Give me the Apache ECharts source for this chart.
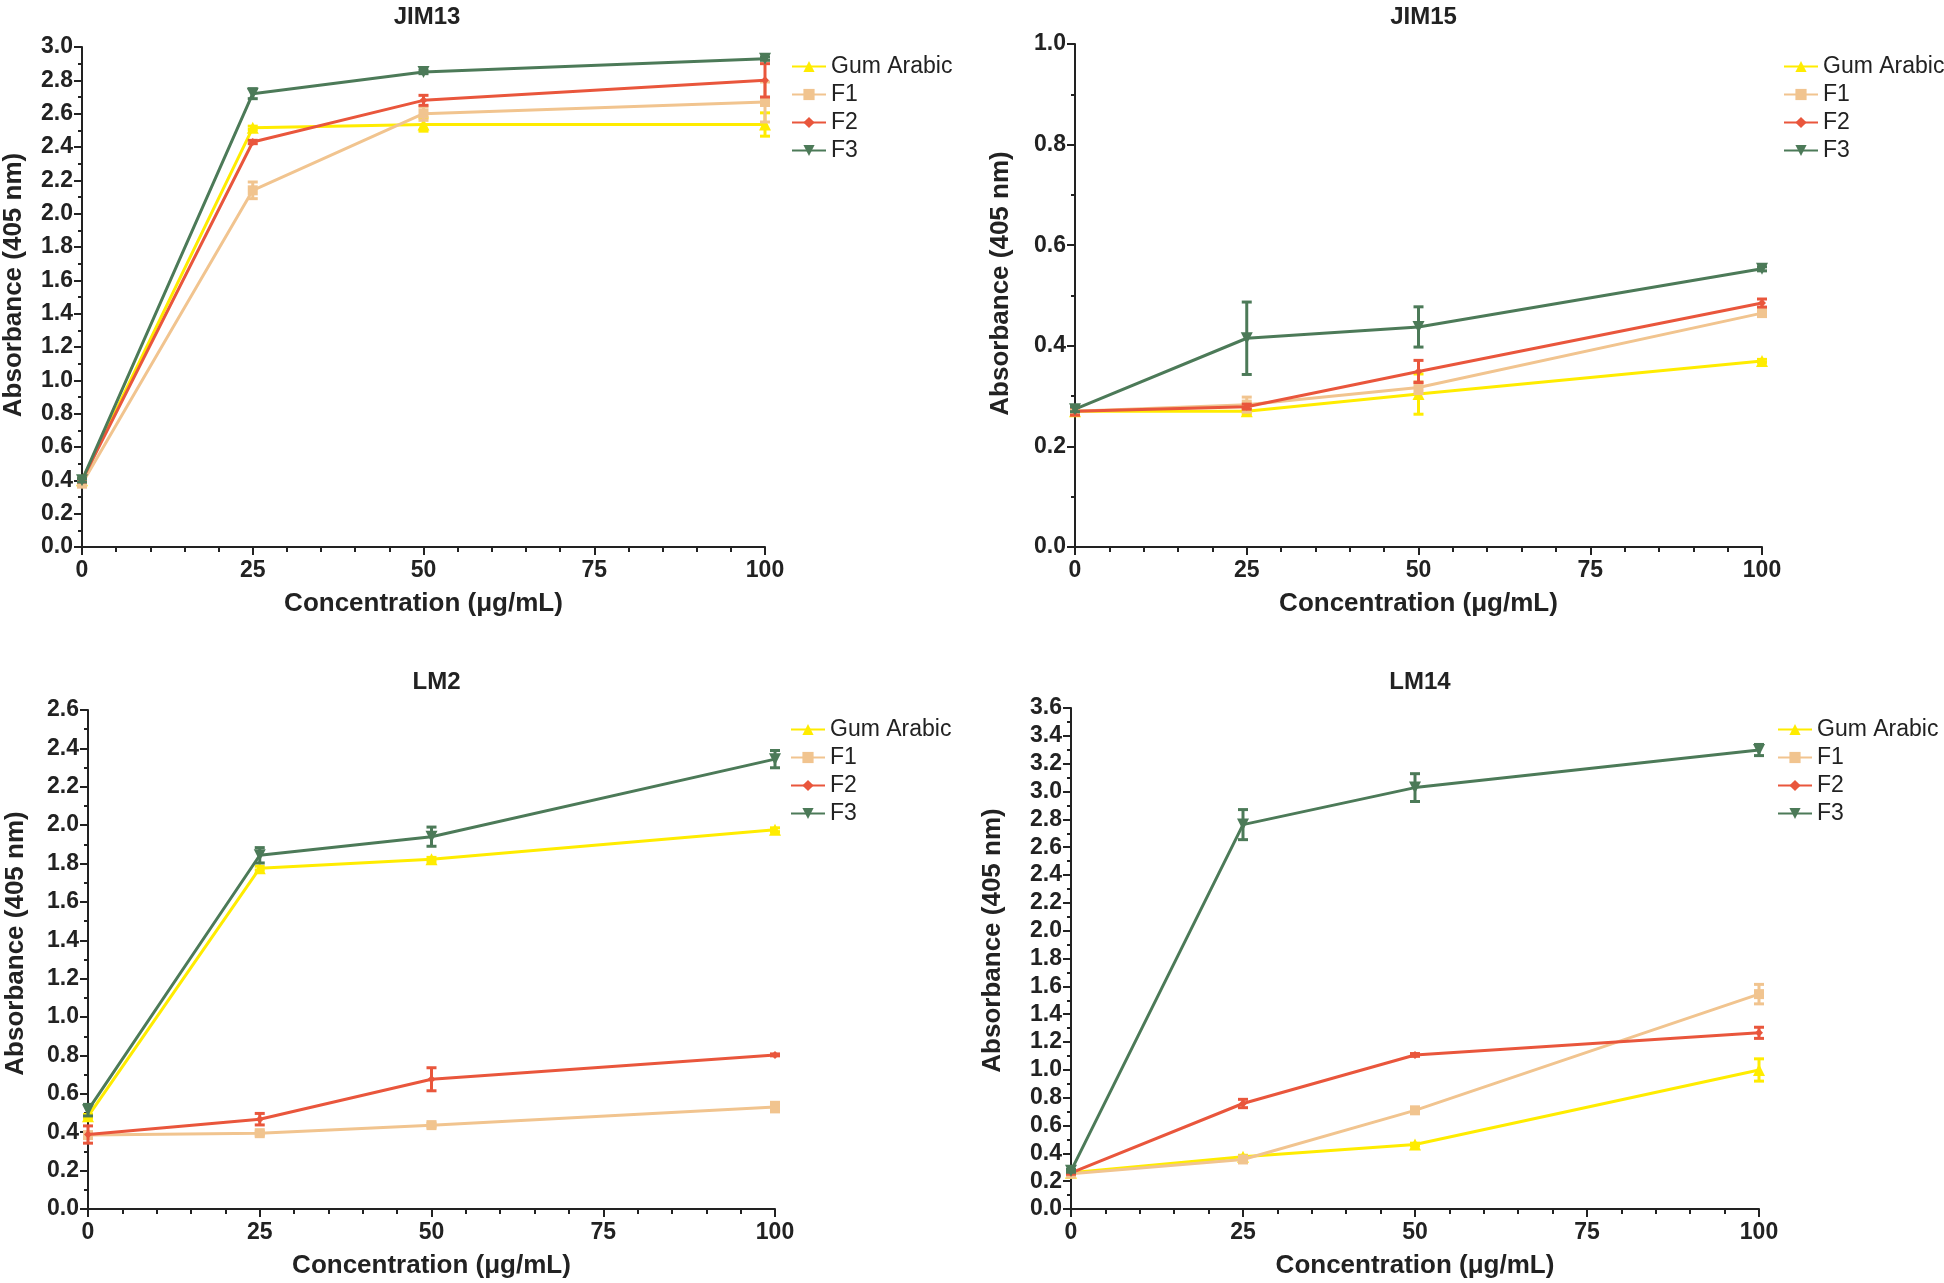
<!DOCTYPE html>
<html>
<head>
<meta charset="utf-8">
<script src="https://cdn.jsdelivr.net/npm/echarts@6/dist/echarts.min.js"></script>
<style>
html,body{margin:0;padding:0;background:#fff;}
#chart{width:1944px;height:1283px;}
</style>
</head>
<body>
<div id="chart"></div>
<script>
// ---------- data ----------
const xValues = [0, 25, 50, 100];
const seriesNames = ['Gum Arabic', 'F1', 'F2', 'F3'];
const panelTitles = ['JIM13', 'JIM15', 'LM2', 'LM14'];
const yMax = [3.0, 1.0, 2.6, 3.6];

// JIM13
const jim13_GA = [0.40, 2.515, 2.535, 2.535];
const jim13_GA_err = [0.01, 0.01, 0.04, 0.07];
const jim13_F1 = [0.38, 2.14, 2.60, 2.67];
const jim13_F1_err = [0.01, 0.05, 0.04, 0.12];
const jim13_F2 = [0.40, 2.43, 2.68, 2.80];
const jim13_F2_err = [0.01, 0.01, 0.03, 0.10];
const jim13_F3 = [0.40, 2.72, 2.85, 2.93];
const jim13_F3_err = [0.01, 0.03, 0.01, 0.01];

// JIM15
const jim15_GA = [0.270, 0.270, 0.304, 0.370];
const jim15_GA_err = [0.005, 0.005, 0.04, 0.003];
const jim15_F1 = [0.270, 0.283, 0.317, 0.465];
const jim15_F1_err = [0.005, 0.015, 0.012, 0.006];
const jim15_F2 = [0.270, 0.279, 0.349, 0.485];
const jim15_F2_err = [0.008, 0.005, 0.022, 0.008];
const jim15_F3 = [0.274, 0.415, 0.4375, 0.553];
const jim15_F3_err = [0.005, 0.072, 0.04, 0.004];

// LM2
const lm2_GA = [0.483, 1.776, 1.822, 1.976];
const lm2_GA_err = [0.01, 0.01, 0.01, 0.01];
const lm2_F1 = [0.385, 0.395, 0.437, 0.531];
const lm2_F1_err = [0.01, 0.01, 0.01, 0.025];
const lm2_F2 = [0.388, 0.468, 0.676, 0.803];
const lm2_F2_err = [0.045, 0.03, 0.06, 0.005];
const lm2_F3 = [0.515, 1.843, 1.940, 2.344];
const lm2_F3_err = [0.03, 0.04, 0.05, 0.045];

// LM14
const lm14_GA = [0.26, 0.376, 0.463, 0.999];
const lm14_GA_err = [0.01, 0.01, 0.01, 0.08];
const lm14_F1 = [0.254, 0.356, 0.709, 1.544];
const lm14_F1_err = [0.01, 0.02, 0.02, 0.07];
const lm14_F2 = [0.26, 0.758, 1.107, 1.266];
const lm14_F2_err = [0.01, 0.03, 0.01, 0.04];
const lm14_F3 = [0.274, 2.762, 3.028, 3.298];
const lm14_F3_err = [0.01, 0.108, 0.10, 0.04];

const panels = [
  [[jim13_GA, jim13_GA_err], [jim13_F1, jim13_F1_err], [jim13_F2, jim13_F2_err], [jim13_F3, jim13_F3_err]],
  [[jim15_GA, jim15_GA_err], [jim15_F1, jim15_F1_err], [jim15_F2, jim15_F2_err], [jim15_F3, jim15_F3_err]],
  [[lm2_GA, lm2_GA_err], [lm2_F1, lm2_F1_err], [lm2_F2, lm2_F2_err], [lm2_F3, lm2_F3_err]],
  [[lm14_GA, lm14_GA_err], [lm14_F1, lm14_F1_err], [lm14_F2, lm14_F2_err], [lm14_F3, lm14_F3_err]]
];

// ---------- styling ----------
const colors = ['#FFEC00', '#F1C48F', '#E9563C', '#4C7A58'];
const symbols = ['triangle', 'rect', 'diamond', 'triangle'];
const symbolSizes = [12, 10, 8, 12];
const symbolRotates = [0, 0, 0, 180];
const FONT = "'Liberation Sans', Arial, Helvetica, sans-serif";
const AX = '#222';

const grids = [
  {left: 79, top: 47, width: 686, height: 500},
  {left: 1075, top: 44, width: 687, height: 503},
  {left: 88, top: 710, width: 687, height: 499},
  {left: 1071, top: 708, width: 688, height: 501}
];
const yNameGaps = [55, 61, 59, 65];
const yNameShift = [24, 24, 32, 36];
const legendPos = [
  {left: 791, top: 55},
  {left: 1783, top: 55},
  {left: 790, top: 718},
  {left: 1777, top: 718}
];

const option = {
  backgroundColor: '#fff',
  animation: false,
  title: [], grid: [], xAxis: [], yAxis: [], legend: [], series: []
};

panels.forEach((panel, p) => {
  const g = grids[p];
  option.grid.push({left: g.left, top: g.top, width: g.width, height: g.height, containLabel: false});
  option.title.push({
    text: panelTitles[p],
    left: g.left + g.width / 2, top: p < 2 ? 0 : 665,
    textAlign: 'center',
    textStyle: {fontFamily: FONT, fontWeight: 'bold', fontSize: 24, color: AX}
  });
  option.xAxis.push({
    type: 'value', gridIndex: p, min: 0, max: 100, interval: 25,
    name: 'Concentration (\u03bcg/mL)', nameLocation: 'middle', nameGap: 44,
    nameTextStyle: {fontFamily: FONT, fontWeight: 'bold', fontSize: 26, color: AX},
    axisLine: {show: true, onZero: false, lineStyle: {color: AX, width: 2}},
    axisTick: {show: true, length: 8, lineStyle: {color: AX, width: 2}},
    minorTick: {show: true, splitNumber: 5, length: 5, lineStyle: {color: AX, width: 2}},
    axisLabel: {fontFamily: FONT, fontWeight: 'bold', fontSize: 23, color: AX, margin: 12},
    splitLine: {show: false}
  });
  option.yAxis.push({
    type: 'value', gridIndex: p, min: 0, max: yMax[p], interval: 0.2,
    name: 'Absorbance (405 nm)', nameLocation: 'middle', nameGap: yNameGaps[p],
    nameTextStyle: {fontFamily: FONT, fontWeight: 'bold', fontSize: 26, color: AX,
      padding: [0, 0, 0, yNameShift[p]]},
    axisLine: {show: true, onZero: false, lineStyle: {color: AX, width: 2}},
    axisTick: {show: true, length: 8, lineStyle: {color: AX, width: 2}},
    minorTick: {show: true, splitNumber: 2, length: 4, lineStyle: {color: AX, width: 2}},
    axisLabel: {fontFamily: FONT, fontWeight: 'bold', fontSize: 23, color: AX, margin: 9,
      formatter: v => v.toFixed(1)},
    splitLine: {show: false}
  });
  option.legend.push({
    orient: 'vertical', left: legendPos[p].left, top: legendPos[p].top, padding: 0,
    itemWidth: 34, itemHeight: 14, itemGap: 5,
    data: seriesNames,
    textStyle: {fontFamily: FONT, fontSize: 23, color: '#222', lineHeight: 22}
  });
  panel.forEach(([vals, errs], s) => {
    option.series.push({
      name: seriesNames[s], type: 'line', xAxisIndex: p, yAxisIndex: p,
      data: xValues.map((x, i) => [x, vals[i]]),
      color: colors[s],
      lineStyle: {width: 3, color: colors[s]},
      itemStyle: {color: colors[s]},
      symbol: symbols[s], symbolSize: symbolSizes[s], symbolRotate: symbolRotates[s],
      showSymbol: true, z: 3 + s
    });
    option.series.push({
      name: seriesNames[s], type: 'custom', xAxisIndex: p, yAxisIndex: p,
      data: xValues.map((x, i) => [x, vals[i] - errs[i], vals[i] + errs[i]]),
      z: 3 + s,
      renderItem: (params, api) => {
        const lo = api.coord([api.value(0), api.value(1)]);
        const hi = api.coord([api.value(0), api.value(2)]);
        const hw = 5;
        const st = {stroke: colors[s], lineWidth: 3, fill: null};
        return {
          type: 'group',
          children: [
            {type: 'line', shape: {x1: lo[0], y1: lo[1], x2: hi[0], y2: hi[1]}, style: st},
            {type: 'line', shape: {x1: lo[0] - hw, y1: lo[1], x2: lo[0] + hw, y2: lo[1]}, style: st},
            {type: 'line', shape: {x1: hi[0] - hw, y1: hi[1], x2: hi[0] + hw, y2: hi[1]}, style: st}
          ]
        };
      },
      encode: {x: 0, y: [1, 2]},
      silent: true
    });
  });
});

const chart = echarts.init(document.getElementById('chart'), null, {renderer: 'canvas'});
chart.setOption(option);
</script>
</body>
</html>
